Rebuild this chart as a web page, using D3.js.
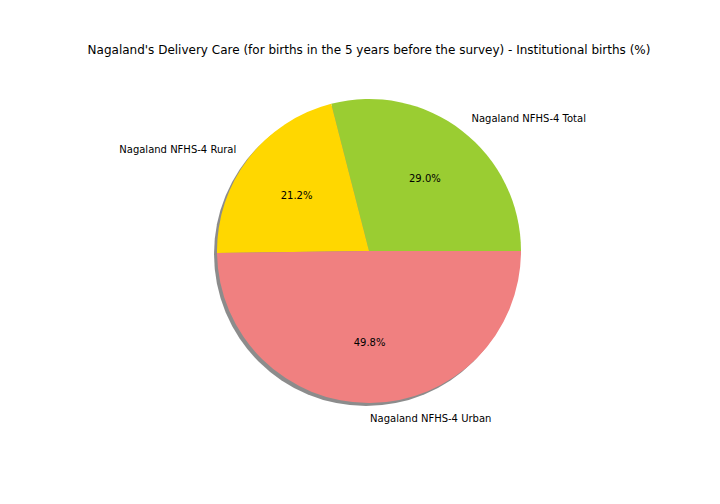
<!DOCTYPE html>
<html><head><meta charset="utf-8">
<script src="https://cdn.jsdelivr.net/npm/d3@7"></script>
<style>body{margin:0;background:#fff}text{font-family:"DejaVu Sans",sans-serif}</style>
</head><body><svg id="c" width="720" height="504"></svg>
<script>
var labels = ["Nagaland NFHS-4 Total", "Nagaland NFHS-4 Rural", "Nagaland NFHS-4 Urban"];
var values = [29.0, 21.2, 49.8];
var colors = ["yellowgreen", "gold", "lightcoral"];

var svg = d3.select("#c");
var cx = 369, cy = 251, r = 152;

svg.append("text").attr("x", 369).attr("y", 54).attr("text-anchor", "middle")
  .style("font-size", "12px").text("Nagaland's Delivery Care (for births in the 5 years before the survey) - Institutional births (%)");

// matplotlib: start at 3 o'clock, counterclockwise
var pie = d3.pie().sort(null).startAngle(Math.PI / 2).endAngle(Math.PI / 2 - 2 * Math.PI);
var arcs = pie(values);
var arc = d3.arc().innerRadius(0).outerRadius(r);

var g = svg.append("g").attr("transform", "translate(" + cx + "," + cy + ")");
g.append("circle").attr("cx", -3).attr("cy", 3).attr("r", r).attr("fill", "#000").attr("opacity", 0.45);
g.selectAll("path.s").data(arcs).enter().append("path")
  .attr("d", arc).attr("fill", function(d, i) { return colors[i]; });

arcs.forEach(function(d, i) {
  var a = (d.startAngle + d.endAngle) / 2;
  var x = Math.sin(a), y = -Math.cos(a);
  g.append("text").attr("x", 1.1 * r * x).attr("y", 1.1 * r * y).attr("dy", "0.35em")
    .attr("text-anchor", x >= 0 ? "start" : "end").style("font-size", "10px").text(labels[i]);
  g.append("text").attr("x", 0.6 * r * x).attr("y", 0.6 * r * y).attr("dy", "0.35em")
    .attr("text-anchor", "middle").style("font-size", "10px").text(values[i].toFixed(1) + "%");
});
</script></body></html>
